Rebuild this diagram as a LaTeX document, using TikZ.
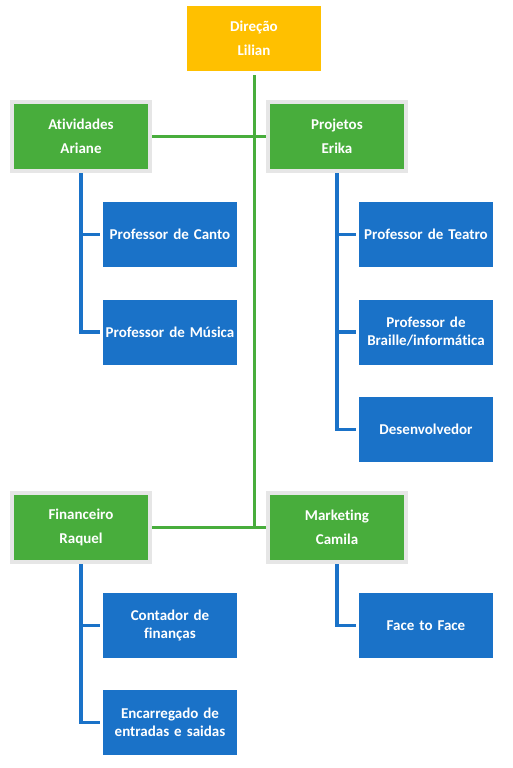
\documentclass[tikz,border=0pt]{standalone}
\usepackage{fontspec}
\setmainfont{Carlito}[Ligatures={NoCommon}]
\definecolor{dirc}{RGB}{255,192,0}
\definecolor{grn}{RGB}{72,173,60}
\definecolor{blu}{RGB}{26,114,200}
\definecolor{bord}{RGB}{230,230,230}
\tikzset{
  dirbox/.style={fill=dirc, minimum width=134pt, minimum height=65pt, inner sep=0pt, outer sep=0pt, text=white, align=center, font=\fontsize{15}{24}\selectfont\bfseries},
  mgrbox/.style={fill=grn, draw=bord, line width=4pt, minimum width=138pt, minimum height=69pt, inner sep=0pt, outer sep=2pt, text=white, align=center, font=\fontsize{15}{24}\selectfont\bfseries},
  subbox/.style={fill=blu, minimum width=134pt, minimum height=65pt, inner sep=0pt, outer sep=0pt, text=white, align=center, text width=134pt, font=\fontsize{15}{18}\selectfont\bfseries},
  gline/.style={draw=grn, line width=3pt},
  bline/.style={draw=blu, line width=3.5pt}
}
\begin{document}
\begin{tikzpicture}[x=1pt,y=-1pt]
\useasboundingbox (0,0) rectangle (512,768);
\node[dirbox] (dir) at (254,38.5) {Direção\\Lilian};
\node[mgrbox] (ati) at (81,136.5) {Atividades\\Ariane};
\node[mgrbox] (pro) at (337,136.5) {Projetos\\Erika};
\node[mgrbox] (fin) at (81,527.5) {Financeiro\\Raquel};
\node[mgrbox] (mkt) at (337,527.5) {Marketing\\Camila};
\node[subbox] (can) at (170,234.5) {Professor de Canto};
\node[subbox] (mus) at (170,332) {Professor de Música};
\node[subbox] (tea) at (426,234.5) {Professor de Teatro};
\node[subbox] (bra) at (426,332) {Professor de\\Braille/informática};
\node[subbox] (des) at (426,429.5) {Desenvolvedor};
\node[subbox] (con) at (170,625.5) {Contador de\\finanças};
\node[subbox] (enc) at (170,722.5) {Encarregado de\\entradas e saidas};
\node[subbox] (fac) at (426,625.5) {Face to Face};
% green trunk
\draw[gline] ([yshift=-4pt]dir.south) -- (dir.south |- fin.east);
\draw[gline] (ati.east) -- (pro.west);
\draw[gline] (fin.east) -- (mkt.west);
% blue branches
\draw[bline] (ati.south) -- (ati.south |- mus.west) -- ([xshift=-3pt]mus.west);
\draw[bline] (ati.south |- can.west) -- ([xshift=-3pt]can.west);
\draw[bline] (pro.south) -- (pro.south |- des.west) -- ([xshift=-3pt]des.west);
\draw[bline] (pro.south |- tea.west) -- ([xshift=-3pt]tea.west);
\draw[bline] (pro.south |- bra.west) -- ([xshift=-3pt]bra.west);
\draw[bline] (fin.south) -- (fin.south |- enc.west) -- ([xshift=-3pt]enc.west);
\draw[bline] (fin.south |- con.west) -- ([xshift=-3pt]con.west);
\draw[bline] (mkt.south) -- (mkt.south |- fac.west) -- ([xshift=-3pt]fac.west);
\end{tikzpicture}
\end{document}
